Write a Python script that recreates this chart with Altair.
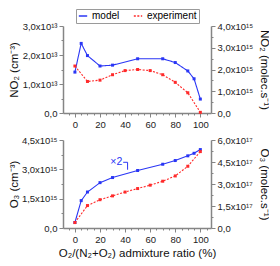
import altair as alt
import pandas as pd

# ---------------- data ----------------
ratio_model = [0, 5, 10, 20, 30, 50, 70, 80, 90, 95, 100]
no2_model = [1.41e13, 2.40e13, 1.98e13, 1.62e13, 1.65e13, 1.87e13, 1.87e13, 1.74e13, 1.45e13, 1.18e13, 0.48e13]
o3_model = [0.28e15, 1.40e15, 1.84e15, 2.32e15, 2.58e15, 2.94e15, 3.26e15, 3.45e15, 3.69e15, 3.82e15, 4.01e15]

ratio_exp = [0, 10, 20, 30, 40, 50, 60, 70, 80, 90, 100]
no2_exp = [2.16e15, 1.45e15, 1.51e15, 1.76e15, 1.95e15, 2.00e15, 1.95e15, 1.76e15, 1.41e15, 0.93e15, 0.03e15]
o3_exp = [0.37e17, 1.53e17, 1.93e17, 2.19e17, 2.45e17, 2.69e17, 2.92e17, 3.19e17, 3.55e17, 4.21e17, 5.21e17]

series = ["model", "experiment"]
anno_text = ["×2"]
anno_text_x = [33]
anno_text_y = [3.36e15]
anno_x = [38.5, 42, 42]
anno_y = [3.36e15, 3.36e15, 2.98e15]

x_ticks = list(range(-5, 110, 5))

FONT = "Liberation Sans"
BLUE = "#2a36f5"
RED = "#ff2a2a"
AXC = "#858585"

df_m_no2 = pd.DataFrame({"x": ratio_model, "y": no2_model, "series": "model"})
df_e_no2 = pd.DataFrame({"x": ratio_exp, "y": no2_exp, "series": "experiment"})
df_m_o3 = pd.DataFrame({"x": ratio_model, "y": o3_model})
df_e_o3 = pd.DataFrame({"x": ratio_exp, "y": o3_exp})
df_anno_t = pd.DataFrame({"x": anno_text_x, "y": anno_text_y, "t": anno_text})
df_anno_l = pd.DataFrame({"x": anno_x, "y": anno_y, "o": list(range(len(anno_x)))})

W, H1, H2 = 148, 87, 88


def y_axis(orient, values, step, div, sup, title, tpad, ext):
    lab = (f"abs(datum.value/{step} - round(datum.value/{step})) > 0.01 ? '' : "
           f"(datum.value == 0 ? '0,0' : replace(format(datum.value/{div}, '.1f'), '.', ',') + 'x10{sup}')")
    return alt.Axis(orient=orient, values=values, labelExpr=lab, title=title, labelOverlap=False,
                    tickSize={"condition": {"test": f"abs(datum.value/{step} - round(datum.value/{step})) < 0.01", "value": 4}, "value": 2},
                    minExtent=ext, maxExtent=ext, titlePadding=tpad, labelPadding=2)


def x_axis(title):
    return alt.Axis(values=x_ticks, title=title, labelOverlap=False,
                    labelExpr="datum.value % 20 == 0 ? datum.value : ''",
                    tickSize={"condition": {"test": "datum.value % 20 == 0", "value": 4}, "value": 2},
                    labelPadding=2, titlePadding=4)


xs = alt.Scale(domain=[-9.5, 108.5], nice=False, zero=False)

color_scale = alt.Scale(domain=series, range=[BLUE, RED])
dash_scale = alt.Scale(domain=series, range=[[1, 0], [2, 1.5]])
leg = alt.Legend(title=None, orient="none", legendX=13, legendY=-17, direction="horizontal",
                 symbolType="stroke", symbolSize=70, symbolStrokeWidth=1.5,
                 strokeColor="#9a9a9a", fillColor="white", padding=2,
                 labelFont=FONT, labelFontSize=10, columnPadding=10, labelOffset=4)

top_left_vals = [i * 5e12 for i in range(0, 7)]
top_right_vals = [i * 5e14 for i in range(0, 9)]
bot_left_vals = [i * 7.5e14 for i in range(0, 7)]
bot_right_vals = [i * 7.5e16 for i in range(0, 9)]

tl_scale = alt.Scale(domain=[0, 3e13], nice=False)
tr_scale = alt.Scale(domain=[0, 4e15], nice=False)
bl_scale = alt.Scale(domain=[0, 4.5e15], nice=False)
br_scale = alt.Scale(domain=[0, 6e17], nice=False)

tx = alt.X("x:Q", scale=xs, axis=x_axis(None))
bx = alt.X("x:Q", scale=xs, axis=x_axis("O₂/(N₂+O₂) admixture ratio (%)"))

tly = alt.Y("y:Q", scale=tl_scale, axis=y_axis("left", top_left_vals, 1e13, 1e13, "¹³", "NO₂ (cm⁻³)", 3, 41))
try_ = alt.Y("y:Q", scale=tr_scale, axis=y_axis("right", top_right_vals, 1e15, 1e15, "¹⁵", "NO₂ (molec.s⁻¹)", 2, 45))
bly = alt.Y("y:Q", scale=bl_scale, axis=y_axis("left", bot_left_vals, 1.5e15, 1e15, "¹⁵", "O₃ (cm⁻³)", 3, 41))
bry = alt.Y("y:Q", scale=br_scale, axis=y_axis("right", bot_right_vals, 1.5e17, 1e17, "¹⁷", "O₃ (molec.s⁻¹)", 2, 45))

# ---- top panel (NO2) ----
top_model_line = alt.Chart(df_m_no2).mark_line(strokeWidth=1.1).encode(
    x=tx, y=tly,
    color=alt.Color("series:N", scale=color_scale, legend=leg),
    strokeDash=alt.StrokeDash("series:N", scale=dash_scale, legend=leg),
)
top_model_pts = alt.Chart(df_m_no2).mark_square(size=9, color=BLUE, opacity=1).encode(x=tx, y=tly)
top_left = alt.layer(top_model_line, top_model_pts)

top_exp_line = alt.Chart(df_e_no2).mark_line(strokeWidth=1.1).encode(
    x=tx, y=try_,
    color=alt.Color("series:N", scale=color_scale, legend=leg),
    strokeDash=alt.StrokeDash("series:N", scale=dash_scale, legend=leg),
)
top_exp_pts = alt.Chart(df_e_no2).mark_square(size=9, color=RED, opacity=1).encode(x=tx, y=try_)
top_right = alt.layer(top_exp_line, top_exp_pts)

top = alt.layer(top_left, top_right).resolve_scale(y="independent").properties(width=W, height=H1)

# ---- bottom panel (O3) ----
bot_model_line = alt.Chart(df_m_o3).mark_line(strokeWidth=1.1, color=BLUE).encode(x=bx, y=bly)
bot_model_pts = alt.Chart(df_m_o3).mark_square(size=9, color=BLUE, opacity=1).encode(x=bx, y=bly)
bot_anno_t = alt.Chart(df_anno_t).mark_text(color=BLUE, font=FONT, fontSize=10.5, align="center", baseline="middle").encode(
    x=bx, y=bly, text="t:N")
bot_anno_l = alt.Chart(df_anno_l).mark_line(color=BLUE, strokeWidth=1).encode(x=bx, y=bly, order="o:Q")
bot_left = alt.layer(bot_model_line, bot_model_pts, bot_anno_l, bot_anno_t)

bot_exp_line = alt.Chart(df_e_o3).mark_line(strokeWidth=1.1, color=RED, strokeDash=[2, 1.5]).encode(x=bx, y=bry)
bot_exp_pts = alt.Chart(df_e_o3).mark_square(size=9, color=RED, opacity=1).encode(x=bx, y=bry)
bot_right = alt.layer(bot_exp_line, bot_exp_pts)

bottom = alt.layer(bot_left, bot_right).resolve_scale(y="independent").properties(width=W, height=H2)

chart = alt.vconcat(top, bottom, spacing=6).resolve_scale(color="independent", strokeDash="independent").properties(
    padding={"left": 0, "top": 0, "right": 0, "bottom": 0}
).configure_view(stroke=None).configure_axis(
    labelFont=FONT, labelFontSize=9.5, labelColor="#222222",
    titleFont=FONT, titleFontSize=11.5, titleFontWeight="normal", titleColor="#111111",
    domainColor=AXC, domainWidth=1.5, tickColor=AXC, tickWidth=1, grid=False,
)

chart.save("out.html", embed_options={"renderer": "svg", "actions": False})
